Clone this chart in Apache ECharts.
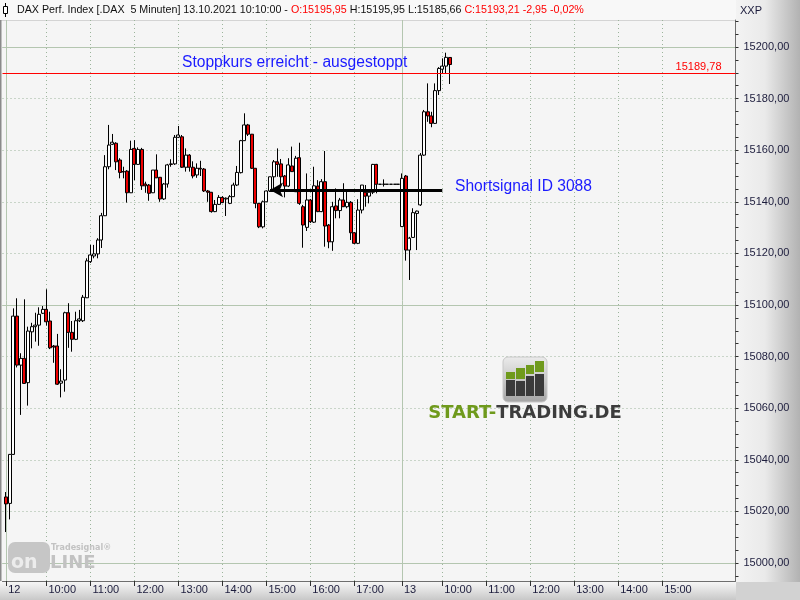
<!DOCTYPE html>
<html><head><meta charset="utf-8">
<script src="https://cdn.jsdelivr.net/npm/echarts@6/dist/echarts.min.js"></script>
<style>html,body{margin:0;padding:0;background:#f5f5f5}#c{width:800px;height:600px}</style>
</head><body><div id="c"></div>
<script>
// ---- DATA (5-minute bars, index 1 = 12.10. 09:05) ----
const openP = [15025.6,15023.1,15042.1,15095.7,15076.7,15079.3,15069.9,15089.6,15091.6,15092.2,
15096.8,15098.3,15093.8,15084.1,15084.1,15069.7,15070.9,15097.0,15089.4,15086.7,
15093.9,15093.9,15102.8,15116.8,15119.0,15119.8,15125.2,15134.6,15153.6,15162.3,
15162.7,15156.2,15151.7,15151.9,15143.5,15160.7,15154.5,15160.3,15146.9,15146.5,
15143.5,15152.3,15149.5,15141.1,15146.9,15154.7,15154.7,15165.0,15165.2,15153.4,
15158.1,15153.4,15150.4,15153.0,15152.7,15144.2,15143.7,15136.2,15139.0,15141.7,
15141.1,15139.4,15142.0,15146.5,15151.3,15163.7,15169.8,15166.2,15153.0,15139.4,
15130.3,15140.0,15144.2,15149.7,15155.5,15154.7,15150.0,15146.1,15153.9,15143.9,
15157.1,15138.1,15130.1,15140.7,15132.1,15146.1,15136.2,15147.8,15131.0,15124.5,
15138.4,15136.6,15140.7,15138.1,15139.8,15128.0,15123.9,15136.8,15143.7,15142.2,
15143.7,15154.5,15146.8,15146.8,15146.8,15146.8,15146.8,15146.8,15130.4,15150.0,
15121.3,15126.2,15135.5,15138.8,15158.1,15174.9,15173.3,15170.4,15183.1,15191.4,
15192.6,15195.95];
const highP = [15027.5,15042.2,15098.7,15102.6,15081.3,15102.2,15091.6,15093.1,15097.0,15099.1,
15099.6,15106.1,15097.4,15084.5,15088.8,15075.1,15097.4,15100.7,15093.8,15097.4,
15098.1,15103.9,15118.1,15123.3,15123.3,15125.9,15135.7,15158.1,15169.8,15166.3,
15163.1,15156.9,15153.6,15152.3,15163.7,15163.9,15161.1,15160.9,15147.8,15146.9,
15152.3,15158.4,15149.6,15147.3,15154.7,15156.5,15165.9,15169.4,15165.9,15160.7,
15158.5,15155.7,15154.9,15155.9,15153.1,15144.6,15143.8,15140.7,15142.6,15142.2,
15141.7,15142.6,15147.4,15153.9,15164.0,15174.3,15170.2,15166.3,15153.1,15139.5,
15140.5,15144.4,15149.7,15156.2,15160.7,15156.6,15150.4,15156.9,15161.4,15157.8,
15162.9,15138.8,15151.0,15141.1,15153.6,15148.4,15148.8,15159.7,15131.4,15140.0,
15145.2,15141.5,15147.2,15144.6,15140.3,15128.3,15141.0,15146.5,15146.5,15144.2,
15154.7,15154.7,15146.8,15148.7,15146.8,15146.8,15146.8,15146.8,15151.0,15150.4,
15126.4,15137.5,15136.6,15158.9,15175.6,15185.9,15174.9,15185.9,15192.2,15195.6,
15197.8,15195.95];
const lowP = [15012.0,15016.9,15041.9,15075.8,15057.4,15069.4,15061.0,15083.2,15085.8,15084.2,
15096.5,15092.0,15082.9,15077.6,15069.0,15064.2,15066.4,15083.4,15081.9,15086.4,
15093.4,15093.4,15102.7,15116.3,15118.1,15118.1,15122.1,15134.5,15152.6,15162.0,
15152.3,15149.1,15149.1,15139.7,15143.4,15148.4,15154.3,15144.6,15143.5,15140.4,
15143.4,15149.2,15140.0,15140.7,15145.5,15153.6,15154.3,15164.7,15153.1,15151.7,
15151.7,15149.1,15149.3,15150.0,15143.8,15140.0,15135.8,15136.0,15138.8,15139.5,
15134.5,15139.1,15141.9,15146.1,15151.0,15163.6,15165.5,15152.7,15137.5,15129.8,
15129.7,15139.9,15143.8,15143.9,15149.7,15145.9,15141.7,15145.7,15151.6,15143.8,
15138.8,15122.2,15128.7,15131.8,15131.8,15136.0,15136.0,15122.6,15122.0,15121.0,
15133.6,15133.6,15138.0,15137.5,15125.2,15123.6,15123.6,15135.5,15138.1,15139.4,
15143.0,15143.3,15146.8,15145.9,15146.8,15146.8,15146.8,15146.8,15130.2,15117.2,
15109.7,15126.0,15121.3,15138.4,15157.8,15171.0,15168.9,15170.2,15181.4,15189.8,
15189.8,15185.66];
const closeP = [15022.9,15042.1,15095.7,15076.7,15079.3,15069.6,15089.9,15091.6,15092.2,15096.4,
15098.3,15093.5,15083.4,15083.7,15069.3,15070.5,15097.0,15089.4,15086.7,15093.9,
15094.6,15103.0,15117.1,15119.4,15119.8,15125.2,15134.6,15153.6,15162.0,15163.1,
15155.5,15151.4,15151.6,15143.5,15160.3,15154.5,15160.3,15146.2,15146.2,15143.3,
15152.3,15149.3,15141.1,15146.9,15154.3,15154.5,15165.0,15165.9,15153.4,15158.1,
15153.4,15150.0,15153.0,15152.7,15144.2,15143.7,15136.2,15139.0,15141.7,15139.7,
15141.4,15142.0,15146.5,15151.4,15163.7,15169.8,15166.2,15153.0,15139.4,15130.3,
15140.0,15144.2,15149.7,15155.5,15154.5,15149.7,15146.1,15154.3,15151.7,15156.9,
15139.4,15131.0,15140.7,15132.3,15146.2,15136.2,15147.8,15130.6,15124.5,15138.1,
15136.6,15140.7,15138.1,15139.8,15128.0,15123.9,15136.8,15146.5,15142.2,15143.7,
15154.5,15146.8,15146.8,15146.8,15146.8,15146.8,15146.8,15146.8,15149.1,15121.3,
15125.9,15135.8,15136.4,15158.1,15174.9,15173.3,15170.4,15183.1,15191.7,15192.6,
15196.0,15193.21];
const prevClose = 15196.16;
const dayKeys = ['12.10.', '13.10.'];
const dayLabels = ['12', '13'];
const lastLabelledTime = '15:00';
const yLabelValues = [15000,15020,15040,15060,15080,15100,15120,15140,15160,15180,15200];
const yMinorTicks = [14995,15000,15005,15010,15015,15020,15025,15030,15035,15040,15045,15050,15055,15060,15065,15070,15075,15080,15085,15090,15095,15100,15105,15110,15115,15120,15125,15130,15135,15140,15145,15150,15155,15160,15165,15170,15175,15180,15185,15190,15195,15200,15205,15210];
const solidLevels = [15000, 15100, 15200];
const stopLevel = 15189.78;
const signalLevel = 15144.6;
const signalFrom = 73, signalTo = 120;

// ---- categories: day 1 09:00..18:00, day 2 09:05.. ----
function pad(n){return (n<10?'0':'')+n;}
function hm(m){return pad(Math.floor(m/60))+':'+pad(m%60);}
const categories = [];
for (let m = 540; m <= 1080; m += 5) categories.push(dayKeys[0]+' '+hm(m));
for (let m = 545; categories.length < 201; m += 5) categories.push(dayKeys[1]+' '+hm(m));

const candles = openP.map((o,k)=>[k+1, o, closeP[k], lowP[k], highP[k]]);

function tPart(v){return v.slice(-5);}
function isDayStart(v){return tPart(v)==='09:05';}
function isTick(idx, v){
  const t=tPart(v);
  if (v.slice(0,6)===dayKeys[1] && t>lastLabelledTime) return false;
  return t==='09:05' || (t.endsWith(':00') && t!=='09:00' && t!=='18:00');
}
function isHour(idx, v){return isTick(idx,v) && !isDayStart(v);}
function dayStart(idx, v){return isDayStart(v);}
const fmt = (v,d)=>v.toFixed(d===undefined?2:d).replace('.',',');

const FONT = "'Liberation Sans', Arial, sans-serif";
const yMin = 14993.02, yMax = 15210.47;
const dotted = {color:'#9cb49c', width:1, type:[1,3]};
const solid = {color:'#b4c6b0', width:1, type:'solid'};

const n = openP.length-1;
const lastO = openP[n], lastH = highP[n], lastL = lowP[n], lastC = closeP[n];
const chg = lastC - prevClose;
const headerText = '{d|DAX Perf. Index [.DAX  5 Minuten] 13.10.2021 10:10:00 - }{r|O:'+fmt(lastO)+'}{d| H:'+fmt(lastH)+' L:'+fmt(lastL)+' }{r|C:'+fmt(lastC)+' '+fmt(chg)+' '+fmt(chg/prevClose*100)+'%}';

const chart = echarts.init(document.getElementById('c'), null, {renderer:'canvas'});
chart.setOption({
  animation:false,
  backgroundColor:'#f5f5f5',
  textStyle:{fontFamily:FONT},
  grid:{left:2.5, right:64.5, top:20, bottom:19, show:true, backgroundColor:'#f5f5f5', borderWidth:0, outerBoundsMode:'none', containLabel:false},
  xAxis:[{
    type:'category', data:categories, boundaryGap:false,
    axisLine:{show:true, lineStyle:{color:'#6e6e6e', width:1}},
    axisTick:{show:true, interval:isTick, length:5, lineStyle:{color:'#303030'}},
    axisLabel:{show:true, interval:isTick, align:'left', margin:3, padding:[0,0,0,2], fontSize:11, color:'#1c1c3c', fontFamily:FONT,
      formatter:(v)=>isDayStart(v)?dayLabels[dayKeys.indexOf(v.slice(0,6))]:tPart(v)},
    splitLine:{show:true, interval:isHour, lineStyle:dotted}
  },{
    type:'category', data:categories, boundaryGap:false, position:'bottom',
    axisLine:{show:false}, axisTick:{show:false}, axisLabel:{show:false},
    splitLine:{show:true, interval:dayStart, lineStyle:solid}
  }],
  yAxis:[{
    type:'value', position:'right', min:yMin, max:yMax, scale:true,
    axisLine:{show:true, lineStyle:{color:'#6e6e6e', width:1}},
    axisTick:{show:false, customValues:yLabelValues},
    axisLabel:{show:true, customValues:yLabelValues, margin:8, fontSize:11, color:'#1c1c3c', fontFamily:FONT, formatter:(v)=>fmt(v)},
    splitLine:{show:true, lineStyle:dotted}
  },{
    type:'value', position:'right', min:yMin, max:yMax, scale:true,
    axisLine:{show:false}, axisLabel:{show:false}, splitLine:{show:false},
    axisTick:{show:true, customValues:yMinorTicks, length:3, inside:false, lineStyle:{color:'#303030'}}
  },{
    type:'value', position:'right', min:yMin, max:yMax, scale:true,
    axisLine:{show:false}, axisLabel:{show:false},
    axisTick:{show:false, customValues:solidLevels},
    splitLine:{show:true, lineStyle:solid}
  }],
  series:[{
    type:'candlestick', xAxisIndex:0, yAxisIndex:0,
    data:candles, encode:{x:0, y:[1,2,3,4]},
    barWidth:3.5,
    itemStyle:{color:'#ffffff', color0:'#ee0000', borderColor:'#000000', borderColor0:'#000000', borderWidth:1},
    markLine:{
      silent:true, symbol:['none','none'], animation:false, z:5,
      data:[
        {yAxis:stopLevel, lineStyle:{color:'#ff0000', width:1, type:'solid'},
         label:{show:true, position:'insideEndTop', formatter:()=>fmt(stopLevel), color:'#ff0000', fontSize:11, fontFamily:FONT, distance:[14,1]}},
        [{coord:[signalFrom, signalLevel], symbol:'arrow', symbolSize:[11,13]},
         {coord:[signalTo, signalLevel], symbol:'none', lineStyle:{color:'#000', width:3, type:'solid'}, label:{show:false}}]
      ]
    }
  }],
  graphic:[
    {type:'rect', z:-1, shape:{x:0,y:0,width:736,height:20}, style:{fill:'#f8f8f8'}},
    {type:'rect', z:-1, shape:{x:736,y:0,width:64,height:600}, style:{fill:new echarts.graphic.LinearGradient(0,0,1,0,[{offset:0,color:'#f3f3f3'},{offset:0.45,color:'#eaeaea'},{offset:1,color:'#b2b2b2'}])}},
    {type:'rect', z:-1, shape:{x:0,y:582,width:736,height:18}, style:{fill:new echarts.graphic.LinearGradient(0,0,0,1,[{offset:0,color:'#f6f6f6'},{offset:1,color:'#c8c8c8'}])}},
    {type:'rect', z:-1, shape:{x:736,y:582,width:64,height:18}, style:{fill:'#d2d2d2'}},
    {type:'line', z:0, shape:{x1:0,y1:20.5,x2:736,y2:20.5}, style:{stroke:'#d4d4d4',lineWidth:1}},
    {type:'rect', z:10, shape:{x:0,y:20,width:1.5,height:561}, style:{fill:'#8a8a8a'}},
    {type:'line', z:10, shape:{x1:5.5,y1:3,x2:5.5,y2:17}, style:{stroke:'#000',lineWidth:1}},
    {type:'rect', z:10, shape:{x:3.5,y:6.5,width:4,height:7}, style:{fill:'#fff',stroke:'#000',lineWidth:1}},
    {type:'text', z:10, x:17, y:10, style:{text:headerText, align:'left', verticalAlign:'middle', textAlign:'left', textVerticalAlign:'middle', font:'10.7px '+FONT,
      rich:{d:{fill:'#101010', fontSize:10.7, fontFamily:FONT}, r:{fill:'#ff0000', fontSize:10.7, fontFamily:FONT}}}},
    {type:'text', z:10, x:740, y:11, style:{text:'XXP', fill:'#1c1c3c', font:'11px '+FONT, align:'left', verticalAlign:'middle', textAlign:'left', textVerticalAlign:'middle'}},
    {type:'text', z:10, x:182, y:63, style:{text:'Stoppkurs erreicht - ausgestoppt', fill:'#1a1aff', font:'15.6px '+FONT, align:'left', verticalAlign:'middle', textAlign:'left', textVerticalAlign:'middle'}},
    {type:'text', z:10, x:455, y:187, style:{text:'Shortsignal ID 3088', fill:'#1a1aff', font:'15.6px '+FONT, align:'left', verticalAlign:'middle', textAlign:'left', textVerticalAlign:'middle'}},
    // START-TRADING.DE logo
    {type:'rect', z:1, shape:{x:503,y:357,width:44,height:45,r:5}, style:{fill:new echarts.graphic.LinearGradient(0,0,0,1,[{offset:0,color:'#ececec'},{offset:1,color:'#a4a4a4'}]), stroke:'#c8c8c8', lineWidth:1}},
    {type:'rect', z:1, shape:{x:506,y:380,width:9,height:16}, style:{fill:'#3a3a3a'}},
    {type:'rect', z:1, shape:{x:516,y:381,width:9,height:15}, style:{fill:'#3a3a3a'}},
    {type:'rect', z:1, shape:{x:526,y:376,width:8,height:20}, style:{fill:'#3a3a3a'}},
    {type:'rect', z:1, shape:{x:535,y:374,width:9,height:22}, style:{fill:'#3a3a3a'}},
    {type:'rect', z:1, shape:{x:506,y:372,width:9,height:7}, style:{fill:'#6f9a1c'}},
    {type:'rect', z:1, shape:{x:516,y:368,width:9,height:11}, style:{fill:'#6f9a1c'}},
    {type:'rect', z:1, shape:{x:526,y:365,width:8,height:9}, style:{fill:'#6f9a1c'}},
    {type:'rect', z:1, shape:{x:535,y:361,width:9,height:11}, style:{fill:'#6f9a1c'}},
    {type:'text', z:1, x:525, y:413, style:{text:'{g|START-}{k|TRADING.DE}', align:'center', verticalAlign:'middle', textAlign:'center', textVerticalAlign:'middle', font:'bold 18px DejaVu Sans',
      rich:{g:{fill:'#6f9a1c', fontSize:18, fontWeight:'bold', fontFamily:'DejaVu Sans'}, k:{fill:'#3c3c3c', fontSize:18, fontWeight:'bold', fontFamily:'DejaVu Sans'}}}},
    // Tradesignal online watermark
    {type:'rect', z:1, shape:{x:8,y:542,width:42,height:31,r:7}, style:{fill:'#c6c6c6'}},
    {type:'text', z:1, x:11, y:563, style:{text:'on', fill:'#ececec', font:'bold 19px DejaVu Sans', align:'left', verticalAlign:'middle', textAlign:'left', textVerticalAlign:'middle'}},
    {type:'text', z:1, x:51, y:548, style:{text:'Tradesignal®', fill:'#c2c2c2', font:'bold 8px DejaVu Sans', align:'left', verticalAlign:'middle', textAlign:'left', textVerticalAlign:'middle'}},
    {type:'text', z:1, x:50, y:563, style:{text:'LINE', fill:'#c2c2c2', font:'bold 18px DejaVu Sans', align:'left', verticalAlign:'middle', textAlign:'left', textVerticalAlign:'middle'}}
  ]
});
</script></body></html>
